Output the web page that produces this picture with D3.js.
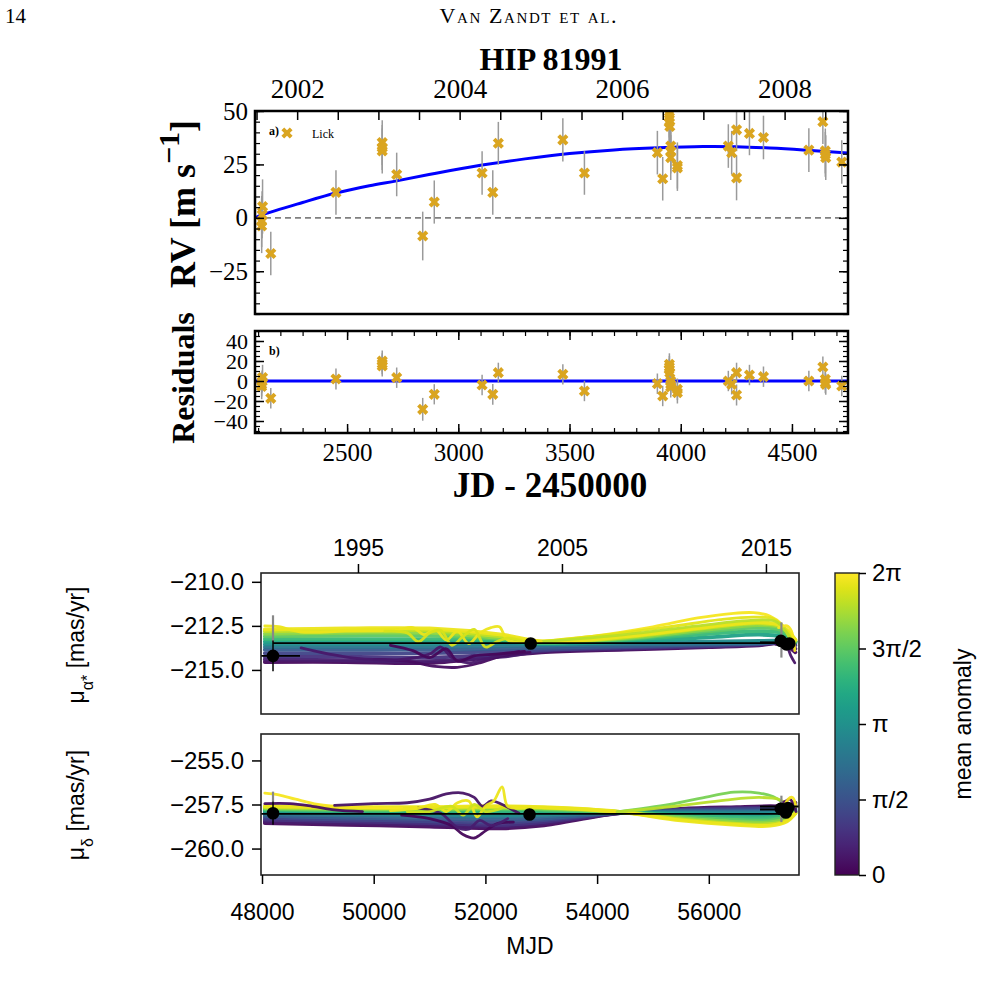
<!DOCTYPE html>
<html>
<head>
<meta charset="utf-8">
<script src="https://cdn.jsdelivr.net/npm/d3@7"></script>
<style>body{margin:0;background:#fff}</style>
</head>
<body>
<div id="chart"></div>
<script>
// ---------- RV data (Lick) ----------
var rvJD = [2116, 2116, 2118, 2120, 2157, 2450, 2658, 2658, 2658, 2723, 2840, 2892, 3107, 3155, 3180,
  3470, 3567, 3895, 3919, 3949, 3949, 3948, 3951, 3955, 3955, 3955, 3985, 3985, 4214, 4229,
  4251, 4251, 4309, 4372, 4576, 4639, 4650, 4650, 4652, 4724];
var rvVel = [-3.8, -1.7, 1.4, 5.3, -16.7, 11.9, 35.2, 32.9, 31.3, 20.3, -8.5, 7.4, 21, 11.9, 34.9,
  36.5, 21, 30.5, 18.3, 48.6, 47, 44.7, 42.8, 33.6, 31.3, 28.2, 24.5, 23.4, 33.6, 30.5,
  41.2, 18.7, 39.5, 37.6, 31.7, 45, 31.3, 29.7, 28.2, 26.1];
var rvErr = [12.7, 12, 11, 12.7, 10.2, 10.4, 10.5, 10.5, 10.5, 10.2, 11.4, 10.1, 10.2, 10.4, 10,
  10.1, 10.2, 10.2, 10.2, 11, 11, 10.5, 10.5, 10.5, 10.5, 10.5, 10.8, 10.8, 10.2, 10.2,
  10, 10.5, 10.2, 10.2, 10.2, 10.5, 10.5, 10.5, 10.5, 10.2];
var resVal = [-5.5, -3.5, -0.5, 3.5, -17.3, 2, 20, 17.3, 15, 3.3, -28.3, -13.3, -4, -13.3, 8.3,
  6.7, -10, -2.7, -15, 16.7, 14, 11.7, 8.3, 0, -3.3, -6, -8.3, -11.7, 0, -3.3,
  8.3, -14, 6, 4.3, 0, 14, 1.7, -1.7, -3.3, -5];

// best-fit orbit curve
var modelJD = [2086, 2120, 2300, 2450, 2600, 2723, 2900, 3100, 3300, 3500, 3700, 3900, 4100, 4250, 4400, 4550, 4752];
var modelRV = [0.0, 1.5, 7.2, 11.6, 15.0, 17.3, 20.9, 24.6, 27.6, 30.1, 31.8, 32.8, 33.4, 33.3, 32.7, 31.8, 30.3];

// tick labels
var rvTicks = [-25, 0, 25, 50];
var resTicks = [-40, -20, 0, 20, 40];
var jdTicks = [2500, 3000, 3500, 4000, 4500];
var yearLabels = [2002, 2004, 2006, 2008];
var pmYears = [1995, 2005, 2015];
var mjdTicks = [48000, 50000, 52000, 54000, 56000];
var raTicks = [-210, -212.5, -215];
var decTicks = [-255, -257.5, -260];
var cbTicks = [0, Math.PI / 2, Math.PI, 3 * Math.PI / 2, 2 * Math.PI];
var cbLabels = ["0", "π/2", "π", "3π/2", "2π"];

// ---------- proper motion orbit tracks ----------
var trackAnom = [0.15, 0.5, 0.9, 1.3, 1.8, 2.4, 3.0, 3.6, 4.2, 4.7, 5.2, 5.7, 6.1];

var raKnots = [48050, 49500, 51000, 52300, 53000, 54500, 56000, 56900, 57300, 57550];
var raTracks = [
  [-214.55, -214.55, -214.6, -214.2, -214.0, -213.85, -213.7, -213.6, -213.5, -214.0],
  [-214.4, -214.45, -214.5, -214.25, -213.95, -213.8, -213.65, -213.55, -213.5, -213.8],
  [-214.25, -214.25, -214.3, -214.1, -213.9, -213.75, -213.65, -213.55, -213.45, -213.6],
  [-214.05, -214.05, -214.05, -213.95, -213.85, -213.7, -213.6, -213.5, -213.45, -213.5],
  [-213.85, -213.85, -213.85, -213.8, -213.75, -213.65, -213.55, -213.5, -213.4, -213.45],
  [-213.7, -213.7, -213.7, -213.65, -213.6, -213.55, -213.5, -213.45, -213.4, -213.4],
  [-213.55, -213.55, -213.55, -213.5, -213.52, -213.45, -213.4, -213.35, -213.35, -213.4],
  [-213.4, -213.4, -213.4, -213.4, -213.5, -213.4, -213.15, -213.0, -213.1, -213.4],
  [-213.25, -213.25, -213.25, -213.3, -213.45, -213.3, -212.95, -212.8, -212.9, -213.4],
  [-213.1, -213.05, -213.05, -213.25, -213.45, -213.25, -212.8, -212.6, -212.75, -213.4],
  [-212.95, -212.9, -212.9, -213.2, -213.42, -213.2, -212.7, -212.45, -212.6, -213.35],
  [-212.8, -212.75, -212.75, -213.1, -213.4, -213.15, -212.6, -212.35, -212.55, -213.3],
  [-212.7, -212.65, -212.65, -213.0, -213.38, -213.1, -212.55, -212.3, -212.5, -213.3]
];
var raLoopAnom = [6.2, 6.0, 5.6, 6.1, 5.9, 0.2, 0.4, 0.1, 0.3, 6.2];
var raLoops = [
  [[52900, -213.4], [54000, -213.05], [55000, -212.55], [55800, -212.05], [56400, -211.8], [56800, -211.75], [57100, -211.95], [57300, -212.4], [57450, -213.2]],
  [[52900, -213.42], [54200, -213.0], [55300, -212.55], [56200, -212.15], [56800, -212.0], [57150, -212.1], [57350, -212.6], [57480, -213.3]],
  [[53000, -213.4], [54500, -213.0], [55800, -212.5], [56700, -212.2], [57200, -212.25], [57400, -212.9], [57520, -213.5]],
  [[48050, -212.5], [48300, -212.55], [48700, -212.85], [49500, -212.8], [50400, -212.75], [50700, -212.6], [50900, -213.0], [51100, -212.7], [51300, -213.3], [51500, -212.8], [51700, -213.5], [51900, -212.9], [52100, -212.6], [52250, -212.55], [52400, -213.3], [53000, -213.4]],
  [[50200, -212.8], [50600, -212.9], [50800, -213.4], [51000, -212.9], [51200, -212.75], [51400, -213.6], [51600, -213.1], [51800, -212.7], [52000, -213.7], [52200, -213.4], [52400, -213.2], [52700, -213.4]],
  [[50000, -214.4], [50600, -214.5], [51100, -214.8], [51500, -214.85], [51900, -214.6], [52300, -214.2], [52800, -214.0]],
  [[48700, -213.75], [49200, -214.1], [49700, -214.35], [50500, -214.4], [51000, -214.1], [51200, -213.7], [51400, -214.3], [51700, -214.6], [52100, -214.3], [52600, -213.95]],
  [[50300, -213.6], [50700, -213.9], [51000, -214.3], [51300, -213.8], [51500, -214.5], [51800, -214.2], [52200, -214.1], [52700, -213.95]],
  [[57200, -213.55], [57380, -213.6], [57470, -214.2], [57540, -214.6]],
  [[57250, -212.6], [57400, -212.5], [57480, -212.8], [57540, -213.9]]
];

var decKnots = [48050, 49500, 51000, 52300, 53000, 54360, 55500, 56500, 57100, 57400, 57550];
var decTracks = [
  [-258.55, -258.65, -258.75, -258.85, -258.7, -258.0, -257.75, -257.65, -257.6, -257.6, -257.4],
  [-258.45, -258.55, -258.65, -258.75, -258.6, -258.0, -257.78, -257.7, -257.68, -257.65, -257.5],
  [-258.35, -258.45, -258.55, -258.65, -258.5, -258.0, -257.8, -257.72, -257.7, -257.7, -257.6],
  [-258.25, -258.35, -258.45, -258.5, -258.4, -257.98, -257.83, -257.78, -257.75, -257.72, -257.7],
  [-258.15, -258.25, -258.3, -258.35, -258.3, -257.97, -257.87, -257.85, -257.82, -257.78, -257.75],
  [-258.05, -258.1, -258.15, -258.2, -258.15, -257.96, -257.92, -257.92, -257.9, -257.85, -257.8],
  [-257.95, -258.0, -258.05, -258.1, -258.05, -257.95, -257.97, -258.0, -258.0, -257.92, -257.85],
  [-257.85, -257.9, -257.95, -257.95, -257.95, -257.94, -258.05, -258.12, -258.12, -258.0, -257.9],
  [-257.8, -257.85, -257.85, -257.85, -257.85, -257.93, -258.12, -258.25, -258.25, -258.1, -257.9],
  [-257.75, -257.8, -257.8, -257.75, -257.78, -257.92, -258.2, -258.38, -258.4, -258.2, -257.95],
  [-257.7, -257.75, -257.75, -257.7, -257.72, -257.92, -258.28, -258.5, -258.52, -258.3, -257.95],
  [-257.65, -257.7, -257.7, -257.65, -257.68, -257.91, -258.35, -258.6, -258.62, -258.4, -258.0],
  [-257.6, -257.65, -257.65, -257.6, -257.65, -257.9, -258.4, -258.65, -258.7, -258.45, -258.0]
];
var decLoopAnom = [6.2, 0.2, 0.3, 0.1, 0.5, 6.1, 5.8, 5.0, 5.6, 0.2, 6.2];
var decLoops = [
  [[48050, -256.85], [48300, -256.95], [48600, -257.2], [49000, -257.5], [49600, -257.65], [50500, -257.7]],
  [[48050, -257.45], [48500, -257.45], [48900, -257.6], [49300, -257.8], [49800, -257.9]],
  [[49300, -257.55], [50000, -257.45], [50600, -257.4], [51000, -257.2], [51300, -256.9], [51600, -256.85], [51800, -257.1], [51950, -257.6], [52100, -257.3], [52300, -257.5], [52600, -258.0]],
  [[50500, -258.1], [51000, -258.3], [51400, -258.7], [51600, -259.2], [51800, -259.4], [52000, -259.0], [52200, -258.6], [52500, -258.5]],
  [[50800, -257.7], [51200, -258.0], [51500, -258.8], [51700, -258.9], [51900, -258.4], [52100, -258.7], [52400, -258.3]],
  [[50300, -257.85], [50800, -257.7], [51100, -257.5], [51300, -257.9], [51500, -257.4], [51700, -257.3], [51850, -258.2], [52000, -257.6], [52150, -257.3], [52300, -256.5], [52400, -257.6], [52700, -257.7]],
  [[50600, -257.9], [51000, -257.9], [51400, -257.6], [51600, -258.1], [51800, -257.5], [52000, -257.9], [52300, -257.7]],
  [[54360, -257.92], [55300, -257.5], [56000, -257.05], [56450, -256.8], [56900, -256.85], [57150, -257.05], [57350, -257.45]],
  [[54360, -257.92], [55400, -257.6], [56300, -257.25], [56900, -257.1], [57250, -257.2], [57400, -257.5]],
  [[57200, -257.6], [57380, -257.3], [57450, -257.2], [57520, -257.5], [57560, -257.9]],
  [[57300, -258.2], [57420, -257.2], [57500, -257.1], [57560, -257.6]]
];

// measured proper motions: Hipparcos, Hip-Gaia, Gaia
var raObsMJD = [48197, 52811, 57290, 57390, 57440];
var raObsVal = [-214.2, -213.5, -213.35, -213.55, -213.5];
var raObsErr = [0.87, 0.03, 0.08, 0.08, 0.08];
var decObsMJD = [48197, 52790, 57290, 57380, 57420];
var decObsVal = [-258.0, -258.07, -257.75, -257.95, -257.7];
var decObsErr = [0.65, 0.03, 0.08, 0.08, 0.08];

// ---------- SVG ----------
var svg = d3.select("#chart").append("svg")
  .attr("width", 984)
  .attr("height", 987);

var serif = "'Liberation Serif', 'Times New Roman', serif";
var sans = "'Liberation Sans', Arial, sans-serif";

function styleAxis(g, font, size, w) {
  g.select(".domain").remove();
  g.selectAll("line").attr("stroke", "#000").attr("stroke-width", w);
  g.selectAll("text").attr("font-family", font).attr("font-size", size).attr("fill", "#000");
}

// header
svg.append("text").attr("x", 5).attr("y", 23).attr("font-family", serif)
  .attr("font-size", 21).text("14");
svg.append("text").attr("x", 528).attr("y", 23).attr("text-anchor", "middle")
  .attr("font-family", serif).attr("font-size", 22).attr("font-variant", "small-caps")
  .attr("textLength", 177).attr("lengthAdjust", "spacing")
  .text("Van Zandt et al.");

// ---------- RV panels ----------
var rv = {left: 255, right: 848, top: 111, bottom: 314};
var res = {left: 255, right: 848, top: 331, bottom: 433};

var xJD = d3.scaleLinear().domain([2086, 4752]).range([rv.left, rv.right]);
var yRV = d3.scaleLinear().domain([-45, 50]).range([rv.bottom, rv.top]);
var yRes = d3.scaleLinear().domain([-52, 50]).range([res.bottom, res.top]);

svg.append("text").attr("x", 551).attr("y", 70).attr("text-anchor", "middle")
  .attr("font-family", serif).attr("font-weight", "bold").attr("font-size", 32)
  .text("HIP 81991");

var defs = svg.append("defs");
function clip(id, b) {
  defs.append("clipPath").attr("id", id).append("rect")
    .attr("x", b.left).attr("y", b.top).attr("width", b.right - b.left).attr("height", b.bottom - b.top);
}
clip("clipRV", rv);
clip("clipRes", res);

var rvG = svg.append("g").attr("clip-path", "url(#clipRV)");
rvG.append("line").attr("x1", rv.left).attr("x2", rv.right)
  .attr("y1", yRV(0)).attr("y2", yRV(0))
  .attr("stroke", "#808080").attr("stroke-width", 1.8).attr("stroke-dasharray", "6,4");

var modelLine = d3.line()
  .x(function(d, i) { return xJD(modelJD[i]); })
  .y(function(d) { return yRV(d); })
  .curve(d3.curveCatmullRom);
rvG.append("path").datum(modelRV).attr("d", modelLine)
  .attr("fill", "none").attr("stroke", "#0000ff").attr("stroke-width", 3);

var idx = d3.range(rvJD.length);
var marker = d3.symbol().type(d3.symbolCross).size(78);

rvG.selectAll(".err").data(idx).enter().append("line")
  .attr("x1", function(i) { return xJD(rvJD[i]); })
  .attr("x2", function(i) { return xJD(rvJD[i]); })
  .attr("y1", function(i) { return yRV(rvVel[i] - rvErr[i]); })
  .attr("y2", function(i) { return yRV(rvVel[i] + rvErr[i]); })
  .attr("stroke", "#9a9a9a").attr("stroke-width", 1.5);
rvG.selectAll(".pt").data(idx).enter().append("path")
  .attr("d", marker)
  .attr("transform", function(i) { return "translate(" + xJD(rvJD[i]) + "," + yRV(rvVel[i]) + ") rotate(45)"; })
  .attr("fill", "#DAA520");

// residuals
var resG = svg.append("g").attr("clip-path", "url(#clipRes)");
resG.append("line").attr("x1", res.left).attr("x2", res.right)
  .attr("y1", yRes(0)).attr("y2", yRes(0))
  .attr("stroke", "#0000ff").attr("stroke-width", 3);
resG.selectAll(".err").data(idx).enter().append("line")
  .attr("x1", function(i) { return xJD(rvJD[i]); })
  .attr("x2", function(i) { return xJD(rvJD[i]); })
  .attr("y1", function(i) { return yRes(resVal[i] - rvErr[i]); })
  .attr("y2", function(i) { return yRes(resVal[i] + rvErr[i]); })
  .attr("stroke", "#9a9a9a").attr("stroke-width", 1.5);
resG.selectAll(".pt").data(idx).enter().append("path")
  .attr("d", marker)
  .attr("transform", function(i) { return "translate(" + xJD(rvJD[i]) + "," + yRes(resVal[i]) + ") rotate(45)"; })
  .attr("fill", "#DAA520");

// legend + panel tags
svg.append("path").attr("d", marker).attr("transform", "translate(287,133) rotate(45)").attr("fill", "#DAA520");
svg.append("text").attr("x", 312).attr("y", 138).attr("font-family", serif).attr("font-size", 12).text("Lick");
svg.append("text").attr("x", 269).attr("y", 135).attr("font-family", serif).attr("font-size", 12)
  .attr("font-weight", "bold").text("a)");
svg.append("text").attr("x", 269).attr("y", 355).attr("font-family", serif).attr("font-size", 12)
  .attr("font-weight", "bold").text("b)");

// RV axes
var yearTicks = d3.range(2001.5, 2008.75, 0.5).map(function(y) { return 1545 + (y - 2000) * 365.25; });
var gTop = svg.append("g").attr("transform", "translate(0," + rv.top + ")")
  .call(d3.axisTop(xJD).tickValues(yearTicks).tickSize(-9).tickPadding(13)
    .tickFormat(function(d) {
      var yr = 2000 + (d - 1545) / 365.25;
      var r = Math.round(yr);
      return yearLabels.indexOf(r) >= 0 && Math.abs(yr - r) < 0.01 ? r : "";
    }));
styleAxis(gTop, serif, 27, 1.5);

var gL = svg.append("g").attr("transform", "translate(" + rv.left + ",0)")
  .call(d3.axisLeft(yRV).tickValues(rvTicks).tickSize(-9).tickPadding(7).tickFormat(d3.format("d")));
styleAxis(gL, serif, 25, 1.5);
var gLm = svg.append("g").attr("transform", "translate(" + rv.left + ",0)")
  .call(d3.axisLeft(yRV).tickValues(d3.range(-45, 51, 5)).tickSize(-5).tickFormat(""));
styleAxis(gLm, serif, 25, 1.2);
var gR = svg.append("g").attr("transform", "translate(" + rv.right + ",0)")
  .call(d3.axisRight(yRV).tickValues(rvTicks).tickSize(-9).tickFormat(""));
styleAxis(gR, serif, 25, 1.5);
var gRm = svg.append("g").attr("transform", "translate(" + rv.right + ",0)")
  .call(d3.axisRight(yRV).tickValues(d3.range(-45, 51, 5)).tickSize(-5).tickFormat(""));
styleAxis(gRm, serif, 25, 1.2);

// residual axes
var jdMinor = d3.range(2100, 4751, 100);
var gRL = svg.append("g").attr("transform", "translate(" + res.left + ",0)")
  .call(d3.axisLeft(yRes).tickValues(resTicks).tickSize(-9).tickPadding(7).tickFormat(d3.format("d")));
styleAxis(gRL, serif, 22, 1.5);
var gRLm = svg.append("g").attr("transform", "translate(" + res.left + ",0)")
  .call(d3.axisLeft(yRes).tickValues(d3.range(-50, 51, 5)).tickSize(-5).tickFormat(""));
styleAxis(gRLm, serif, 25, 1.2);
var gRR = svg.append("g").attr("transform", "translate(" + res.right + ",0)")
  .call(d3.axisRight(yRes).tickValues(resTicks).tickSize(-9).tickFormat(""));
styleAxis(gRR, serif, 25, 1.5);
var gRRm = svg.append("g").attr("transform", "translate(" + res.right + ",0)")
  .call(d3.axisRight(yRes).tickValues(d3.range(-50, 51, 5)).tickSize(-5).tickFormat(""));
styleAxis(gRRm, serif, 25, 1.2);
var gRB = svg.append("g").attr("transform", "translate(0," + res.bottom + ")")
  .call(d3.axisBottom(xJD).tickValues(jdTicks).tickSize(-9).tickPadding(10).tickFormat(d3.format("d")));
styleAxis(gRB, serif, 25, 1.5);
var gRBm = svg.append("g").attr("transform", "translate(0," + res.bottom + ")")
  .call(d3.axisBottom(xJD).tickValues(jdMinor).tickSize(-5).tickFormat(""));
styleAxis(gRBm, serif, 25, 1.2);
var gRT = svg.append("g").attr("transform", "translate(0," + res.top + ")")
  .call(d3.axisTop(xJD).tickValues(jdTicks).tickSize(-9).tickFormat(""));
styleAxis(gRT, serif, 25, 1.5);
var gRTm = svg.append("g").attr("transform", "translate(0," + res.top + ")")
  .call(d3.axisTop(xJD).tickValues(jdMinor).tickSize(-5).tickFormat(""));
styleAxis(gRTm, serif, 25, 1.2);

// frames
[rv, res].forEach(function(b) {
  svg.append("rect").attr("x", b.left).attr("y", b.top)
    .attr("width", b.right - b.left).attr("height", b.bottom - b.top)
    .attr("fill", "none").attr("stroke", "#000").attr("stroke-width", 2.5);
});

// axis titles
svg.append("text").attr("x", 550).attr("y", 497).attr("text-anchor", "middle")
  .attr("font-family", serif).attr("font-weight", "bold").attr("font-size", 35)
  .text("JD - 2450000");
var rvLab = svg.append("text").attr("transform", "translate(195,204) rotate(-90)")
  .attr("text-anchor", "middle").attr("font-family", serif).attr("font-weight", "bold")
  .attr("font-size", 36);
rvLab.append("tspan").text("RV [m s");
rvLab.append("tspan").attr("baseline-shift", "super").attr("font-size", 30).text("−1");
rvLab.append("tspan").text("]");
svg.append("text").attr("transform", "translate(194,378) rotate(-90)")
  .attr("text-anchor", "middle").attr("font-family", serif).attr("font-weight", "bold")
  .attr("font-size", 32).text("Residuals");

// ---------- proper motion panels ----------
var pa = {left: 261, right: 799, top: 573, bottom: 714};
var pd = {left: 261, right: 799, top: 734, bottom: 875};
var xMJD = d3.scaleLinear().domain([47982, 57615]).range([pa.left, pa.right]);
var yRA = d3.scaleLinear().domain([-217.5, -209.5]).range([pa.bottom, pa.top]);
var yDec = d3.scaleLinear().domain([-261.5, -253.5]).range([pd.bottom, pd.top]);
var color = d3.scaleSequential(d3.interpolateViridis).domain([0, 2 * Math.PI]);
clip("clipRA", pa);
clip("clipDec", pd);

function drawPM(clipId, yScale, knots, tracks, loopAnom, loops, obsMJD, obsVal, obsErr, extra) {
  var g = svg.append("g").attr("clip-path", "url(#" + clipId + ")");
  var line = d3.line()
    .x(function(d) { return xMJD(d[0]); })
    .y(function(d) { return yScale(d[1]); })
    .curve(d3.curveCatmullRom.alpha(0.5));
  tracks.forEach(function(t, i) {
    var pts = knots.map(function(k, j) { return [k, t[j]]; });
    g.append("path").datum(pts).attr("d", line)
      .attr("fill", "none").attr("stroke", color(trackAnom[i]))
      .attr("stroke-width", 3.8).attr("stroke-linecap", "round").attr("opacity", 0.95);
  });
  loops.forEach(function(pts, i) {
    g.append("path").datum(pts).attr("d", line)
      .attr("fill", "none").attr("stroke", color(loopAnom[i]))
      .attr("stroke-width", 2.8).attr("stroke-linecap", "round").attr("opacity", 0.95);
  });
  // grey bars
  extra.grey.forEach(function(e) {
    g.append("line").attr("x1", xMJD(e[0])).attr("x2", xMJD(e[0]))
      .attr("y1", yScale(e[1])).attr("y2", yScale(e[2]))
      .attr("stroke", "#888").attr("stroke-width", 2.2);
  });
  // horizontal spans
  extra.spans.forEach(function(e) {
    g.append("line").attr("x1", xMJD(e[0])).attr("x2", xMJD(e[1]))
      .attr("y1", yScale(e[2])).attr("y2", yScale(e[2]))
      .attr("stroke", "#000").attr("stroke-width", e[3]);
  });
  obsMJD.forEach(function(m, i) {
    g.append("line").attr("x1", xMJD(m)).attr("x2", xMJD(m))
      .attr("y1", yScale(obsVal[i] - obsErr[i])).attr("y2", yScale(obsVal[i] + obsErr[i]))
      .attr("stroke", "#000").attr("stroke-width", 1.5);
    g.append("circle").attr("cx", xMJD(m)).attr("cy", yScale(obsVal[i]))
      .attr("r", 6.3).attr("fill", "#000");
  });
}

drawPM("clipRA", yRA, raKnots, raTracks, raLoopAnom, raLoops, raObsMJD, raObsVal, raObsErr, {
  grey: [[48197, -211.9, -213.45], [57300, -212.3, -214.3]],
  spans: [[48197, 57390, -213.48, 1.6], [47880, 48680, -214.2, 1.6], [56917, 57305, -213.45, 2.4]]
});
drawPM("clipDec", yDec, decKnots, decTracks, decLoopAnom, decLoops, decObsMJD, decObsVal, decObsErr, {
  grey: [[48197, -256.77, -257.39], [57300, -257.0, -258.5]],
  spans: [[47880, 57390, -258.03, 1.6], [56917, 57615, -257.62, 2], [56917, 57300, -257.78, 2]]
});

// PM frames and axes
[pa, pd].forEach(function(b) {
  svg.append("rect").attr("x", b.left).attr("y", b.top)
    .attr("width", b.right - b.left).attr("height", b.bottom - b.top)
    .attr("fill", "none").attr("stroke", "#222").attr("stroke-width", 1.6);
});

var gPy = svg.append("g").attr("transform", "translate(0," + pa.top + ")")
  .call(d3.axisTop(xMJD).tickValues(pmYears.map(function(y) { return 51544.5 + (y - 2000) * 365.25; }))
    .tickSize(9).tickPadding(8)
    .tickFormat(function(d) { return Math.round(2000 + (d - 51544.5) / 365.25); }));
styleAxis(gPy, sans, 23, 1.5);

var gPa = svg.append("g").attr("transform", "translate(" + pa.left + ",0)")
  .call(d3.axisLeft(yRA).tickValues(raTicks).tickSize(9).tickPadding(8).tickFormat(d3.format(".1f")));
styleAxis(gPa, sans, 24, 1.5);
var gPd = svg.append("g").attr("transform", "translate(" + pd.left + ",0)")
  .call(d3.axisLeft(yDec).tickValues(decTicks).tickSize(9).tickPadding(8).tickFormat(d3.format(".1f")));
styleAxis(gPd, sans, 24, 1.5);
var gPb = svg.append("g").attr("transform", "translate(0," + pd.bottom + ")")
  .call(d3.axisBottom(xMJD).tickValues(mjdTicks).tickSize(9).tickPadding(20).tickFormat(d3.format("d")));
styleAxis(gPb, sans, 23, 1.5);

svg.append("text").attr("x", 530).attr("y", 954).attr("text-anchor", "middle")
  .attr("font-family", sans).attr("font-size", 23).text("MJD");

var raLab = svg.append("text").attr("transform", "translate(84,645) rotate(-90)")
  .attr("text-anchor", "middle").attr("font-family", sans).attr("font-size", 23);
raLab.append("tspan").text("μ");
raLab.append("tspan").attr("baseline-shift", "sub").attr("font-size", 16).text("α*");
raLab.append("tspan").text(" [mas/yr]");
var decLab = svg.append("text").attr("transform", "translate(84,805) rotate(-90)")
  .attr("text-anchor", "middle").attr("font-family", sans).attr("font-size", 23);
decLab.append("tspan").text("μ");
decLab.append("tspan").attr("baseline-shift", "sub").attr("font-size", 16).text("δ");
decLab.append("tspan").text(" [mas/yr]");

// ---------- colorbar ----------
var cb = {left: 835, right: 859, top: 573, bottom: 875};
var yCb = d3.scaleLinear().domain([0, 2 * Math.PI]).range([cb.bottom, cb.top]);
var grad = defs.append("linearGradient").attr("id", "viridis")
  .attr("x1", 0).attr("y1", 1).attr("x2", 0).attr("y2", 0);
d3.range(0, 1.0001, 0.05).forEach(function(t) {
  grad.append("stop").attr("offset", t).attr("stop-color", d3.interpolateViridis(t));
});
svg.append("rect").attr("x", cb.left).attr("y", cb.top)
  .attr("width", cb.right - cb.left).attr("height", cb.bottom - cb.top)
  .attr("fill", "url(#viridis)").attr("stroke", "#222").attr("stroke-width", 1.4);
var gCb = svg.append("g").attr("transform", "translate(" + cb.right + ",0)")
  .call(d3.axisRight(yCb).tickValues(cbTicks).tickSize(7).tickPadding(6)
    .tickFormat(function(d, i) { return cbLabels[i]; }));
styleAxis(gCb, sans, 24, 1.5);
svg.append("text").attr("transform", "translate(971,724) rotate(-90)")
  .attr("text-anchor", "middle").attr("font-family", sans).attr("font-size", 23)
  .text("mean anomaly");
</script>
</body>
</html>
